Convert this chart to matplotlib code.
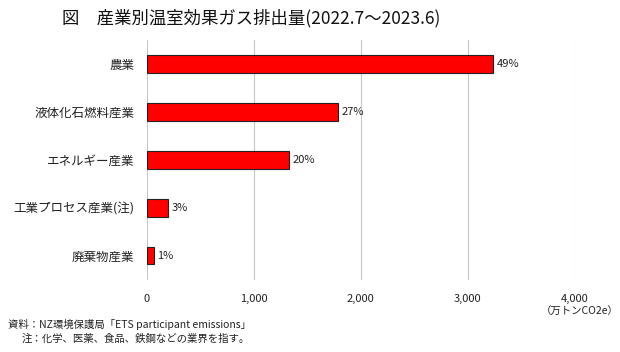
import matplotlib
matplotlib.use("Agg")
import matplotlib.pyplot as plt
from matplotlib.ticker import FuncFormatter

plt.rcParams['font.family'] = ['Noto Sans CJK JP', 'DejaVu Sans']

categories = ["農業", "液体化石燃料産業", "エネルギー産業", "工業プロセス産業(注)", "廃棄物産業"]
values = [3240, 1790, 1327, 200, 69]
shares = ["49%", "27%", "20%", "3%", "1%"]
xticks = [0, 1000, 2000, 3000, 4000]

fig = plt.figure(figsize=(6.2, 3.52), dpi=100)
ax = fig.add_axes([0.237, 0.205, 0.690, 0.681])

ypos = list(range(len(categories)))
ax.barh(ypos, values, height=0.36, color="#ff0000", edgecolor="#222222", linewidth=0.8, zorder=3)
for y, v, s in zip(ypos, values, shares):
    ax.text(v + 30, y, s, va="center", ha="left", fontsize=8, color="#222222")

ax.set_yticks(ypos)
ax.set_yticklabels(categories, fontsize=9)
ax.set_ylim(len(categories) - 0.5, -0.5)
ax.set_xlim(0, 4000)
ax.set_xticks(xticks)
ax.xaxis.set_major_formatter(FuncFormatter(lambda v, p: f"{int(v):,}"))
ax.tick_params(axis="x", labelsize=8, length=0, pad=10, colors="#222222")
ax.tick_params(axis="y", length=0, pad=9, colors="#222222")
ax.grid(axis="x", color="#c8c8c8", linewidth=0.8, zorder=0)
for sp in ax.spines.values():
    sp.set_visible(False)

fig.text(0.10, 0.948, "図　産業別温室効果ガス排出量(2022.7〜2023.6)", fontsize=12.5,
         ha="left", va="center", color="#111111")
fig.text(0.935, 0.113, "（万トンCO2e）", fontsize=7.5, ha="center", va="center", color="#222222")
fig.text(0.013, 0.077, "資料：NZ環境保護局「ETS participant emissions」", fontsize=7.5,
         ha="left", va="center", color="#222222")
fig.text(0.035, 0.038, "注：化学、医薬、食品、鉄鋼などの業界を指す。", fontsize=7.5,
         ha="left", va="center", color="#222222")

fig.savefig("out.png", dpi=100)
